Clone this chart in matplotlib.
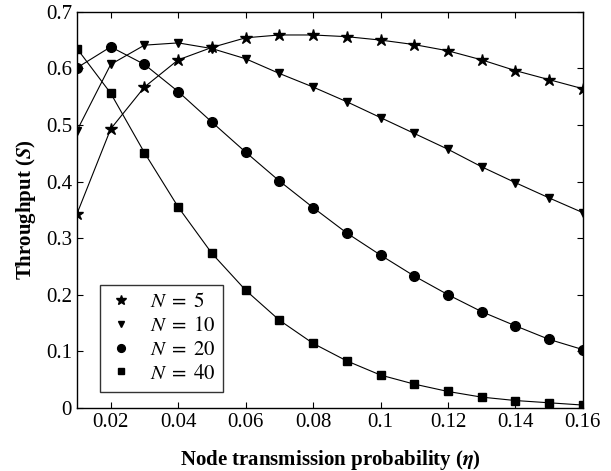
import matplotlib
matplotlib.use("Agg")
import matplotlib.pyplot as plt

plt.rcParams["font.family"] = "Liberation Serif"
plt.rcParams["mathtext.fontset"] = "stix"

eta = [0.01, 0.02, 0.03, 0.04, 0.05, 0.06, 0.07, 0.08,
       0.09, 0.10, 0.11, 0.12, 0.13, 0.14, 0.15, 0.16]

s_n5 = [0.343, 0.493, 0.567, 0.615, 0.637, 0.654, 0.659, 0.659,
        0.656, 0.650, 0.642, 0.631, 0.615, 0.596, 0.580, 0.564]
s_n10 = [0.490, 0.607, 0.641, 0.645, 0.635, 0.617, 0.591, 0.567,
         0.541, 0.513, 0.485, 0.457, 0.426, 0.398, 0.371, 0.345]
s_n20 = [0.601, 0.638, 0.607, 0.559, 0.505, 0.452, 0.401, 0.354,
         0.309, 0.270, 0.233, 0.200, 0.170, 0.145, 0.121, 0.103]
s_n40 = [0.635, 0.556, 0.451, 0.355, 0.273, 0.208, 0.155, 0.114,
         0.083, 0.058, 0.042, 0.029, 0.019, 0.013, 0.009, 0.005]

x_ticks = [0.02, 0.04, 0.06, 0.08, 0.10, 0.12, 0.14, 0.16]
x_labels = ["0.02", "0.04", "0.06", "0.08", "0.1", "0.12", "0.14", "0.16"]
y_ticks = [0, 0.1, 0.2, 0.3, 0.4, 0.5, 0.6, 0.7]
y_labels = ["0", "0.1", "0.2", "0.3", "0.4", "0.5", "0.6", "0.7"]

fig = plt.figure(figsize=(6.11, 4.71), dpi=100)
ax = fig.add_axes([0.126, 0.134, 0.828, 0.841])

series = [
    (s_n5, "*", 9, r"$N\;=\;5$"),
    (s_n10, "v", 6, r"$N\;=\;10$"),
    (s_n20, "o", 7, r"$N\;=\;20$"),
    (s_n40, "s", 6, r"$N\;=\;40$"),
]
for values, marker, size, label in series:
    ax.plot(eta, values, color="black", linewidth=0.8, marker=marker,
            markersize=size, markerfacecolor="black", markeredgecolor="black")
    ax.plot([], [], linestyle="none", marker=marker, markersize=size * 0.8,
            color="black", label=label)

ax.set_xlim(0.01, 0.16)
ax.set_ylim(0, 0.7)
ax.set_xticks(x_ticks)
ax.set_xticklabels(x_labels)
ax.set_yticks(y_ticks)
ax.set_yticklabels(y_labels)
ax.tick_params(direction="in", top=True, right=True, labelsize=15, length=4)
for spine in ax.spines.values():
    spine.set_linewidth(1.0)

ax.set_xlabel(r"Node transmission probability ($\boldsymbol{\eta}$)",
              fontsize=15, fontweight="bold", labelpad=12)
ax.set_ylabel(r"Throughput ($\boldsymbol{S}$)", fontsize=15, fontweight="bold", labelpad=6)

leg = ax.legend(loc="lower left", bbox_to_anchor=(0.045, 0.04), fontsize=15,
                frameon=True, fancybox=False, edgecolor="black",
                handlelength=1.2, handletextpad=0.8, borderpad=0.4,
                labelspacing=0.2, borderaxespad=0)
leg.get_frame().set_linewidth(1.0)

fig.savefig("out.png", dpi=100)
